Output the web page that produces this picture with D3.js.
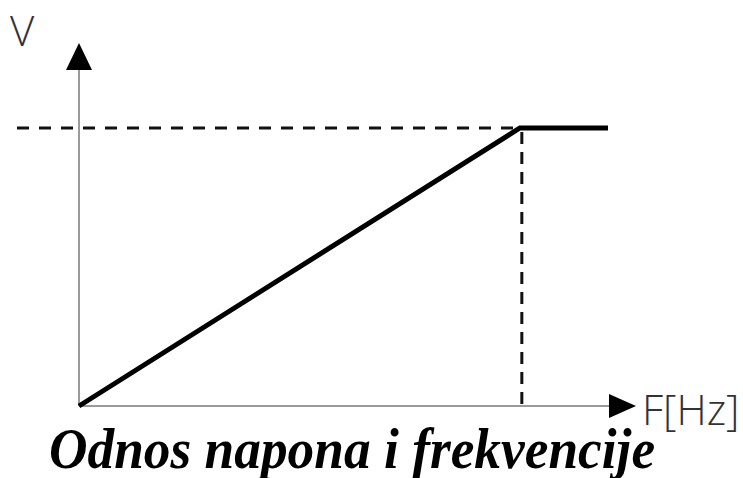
<!DOCTYPE html>
<html>
<head>
<meta charset="utf-8">
<script src="https://cdn.jsdelivr.net/npm/d3@7"></script>
<style>
  body { margin: 0; background: #fff; }
  svg { display: block; }
</style>
</head>
<body>
<svg width="743" height="478"></svg>
<script>
// V/f karakteristika: napon raste linearno do nazivne frekvencije, zatim je konstantan
const freq = [0, 50, 60];
const volt = [0, 400, 400];
const baseFreq = 50;
const ratedVolt = 400;

const svg = d3.select("svg");

const x = d3.scaleLinear().domain([0, 60]).range([79, 608]);
const y = d3.scaleLinear().domain([0, 400]).range([406, 128]);

const x0 = x(0), y0 = y(0);
const axisColor = "#9a9a9a";

// Osi
svg.append("line")
  .attr("x1", x0).attr("y1", y0)
  .attr("x2", x0).attr("y2", 68)
  .attr("stroke", axisColor).attr("stroke-width", 2);
svg.append("line")
  .attr("x1", x0).attr("y1", y0)
  .attr("x2", 612).attr("y2", y0)
  .attr("stroke", axisColor).attr("stroke-width", 2);

// Strelice
svg.append("path")
  .attr("d", `M${x0},43 L${x0 - 13},70 L${x0 + 13},70 Z`)
  .attr("fill", "#000");
svg.append("path")
  .attr("d", `M636,${y0} L609,${y0 - 12} L609,${y0 + 12} Z`)
  .attr("fill", "#000");

// Isprekidane linije
svg.append("line")
  .attr("x1", 17).attr("y1", y(ratedVolt))
  .attr("x2", x(baseFreq)).attr("y2", y(ratedVolt))
  .attr("stroke", "#111").attr("stroke-width", 3)
  .attr("stroke-dasharray", "12,10");
svg.append("line")
  .attr("x1", x(baseFreq) + 2).attr("y1", y(ratedVolt) + 4)
  .attr("x2", x(baseFreq) + 2).attr("y2", y0)
  .attr("stroke", "#111").attr("stroke-width", 3)
  .attr("stroke-dasharray", "12,8");

// Karakteristika
const line = d3.line().x(d => x(d[0])).y(d => y(d[1]));
svg.append("path")
  .datum(d3.zip(freq, volt))
  .attr("d", line)
  .attr("fill", "none")
  .attr("stroke", "#000")
  .attr("stroke-width", 5)
  .attr("stroke-linejoin", "miter");

// Oznake osi
svg.append("text")
  .attr("x", 10).attr("y", 46)
  .attr("font-family", "'Open Sans', 'DejaVu Sans', sans-serif")
  .attr("font-size", 42)
  .attr("font-weight", 300)
  .attr("fill", "#333")
  .text("V");
svg.append("text")
  .attr("x", 642).attr("y", 425)
  .attr("font-family", "'Open Sans', 'DejaVu Sans', sans-serif")
  .attr("font-size", 42)
  .attr("font-weight", 300)
  .attr("fill", "#333")
  .text("F[Hz]");

// Naslov (uži, viši font kao u originalu)
svg.append("text")
  .attr("transform", "translate(352,468) scale(0.92,1)")
  .attr("text-anchor", "middle")
  .attr("font-family", "'Liberation Serif', 'Times New Roman', serif")
  .attr("font-size", 58)
  .attr("font-weight", "bold")
  .attr("font-style", "italic")
  .attr("fill", "#000")
  .text("Odnos napona i frekvencije");
</script>
</body>
</html>
